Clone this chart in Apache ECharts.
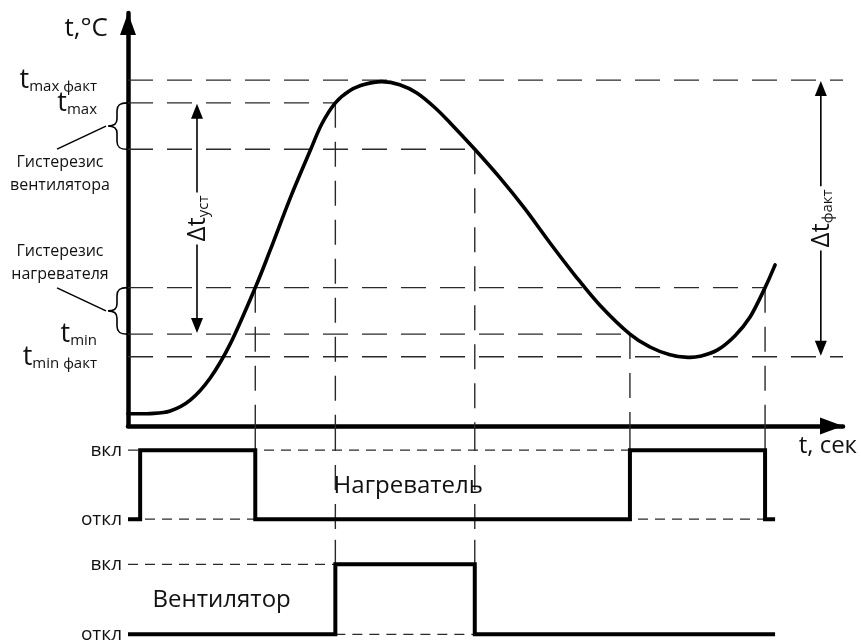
<!DOCTYPE html>
<html>
<head>
<meta charset="utf-8">
<script src="https://cdn.jsdelivr.net/npm/echarts@6/dist/echarts.min.js"></script>
<style>
  html, body { margin: 0; padding: 0; background: #fff; }
  #chart { width: 861px; height: 643px; }
</style>
</head>
<body>
<div id="chart"></div>
<script>
// Temperature curve: time (arbitrary units) and temperature (°C)
const curveTime = [0, 3.1, 5.9, 8.7, 11.5, 14.3, 17.8, 19.9, 22.7, 25.5, 27.1, 29.0, 31.05, 33.15, 35.5, 38.0, 40.4, 42.9, 45.0, 48.5, 52.0, 55.5, 59.0, 62.5, 66.0, 70.2, 73.0, 75.8, 78.3, 80.0, 82.4, 84.9, 87.0, 89.1, 90.5];
const curveTemp = [1.2, 1.2, 1.45, 2.5, 4.65, 7.95, 13.4, 17.05, 22.1, 26.7, 29.25, 31.3, 32.5, 33.1, 33.35, 33.05, 32.25, 30.85, 29.4, 26.8, 24.05, 21.05, 17.75, 14.6, 11.7, 8.9, 7.65, 6.9, 6.65, 6.75, 7.35, 8.75, 10.55, 13.4, 15.6];

// Temperature levels (dashed) and the time where each dashed line stops
const levelTemp = [33.5, 31.3, 26.8, 13.4, 8.9, 6.7];
const levelEnd  = [100, 29.0, 48.5, 89.1, 70.2, 100];

// Labels on the temperature axis
const tickTemp = [33.5, 31.3, 8.9, 6.7];
const tickSub  = ['max факт', 'max', 'min', 'min факт'];

// Heater and fan switching (0 = откл, 1 = вкл)
const heaterTime  = [0, 1.7, 17.8, 70.2, 89.1, 90.5];
const heaterState = [0, 1, 0, 1, 0, 0];
const fanTime  = [0, 29.0, 48.5, 90.5];
const fanState = [0, 1, 0, 0];
const stateTicks  = [0, 1];
const stateLabels = ['откл', 'вкл'];

// Switching moments: time, temperature on the curve, which signal switches
const switchTime   = [17.8, 29.0, 48.5, 70.2, 89.1];
const switchTemp   = [13.4, 31.3, 26.8, 8.9, 13.4];
const switchTarget = ['heater', 'fan', 'fan', 'heater', 'heater'];

// Ranges marked with double arrows
const spanTime = [9.65, 96.9];
const spanFrom = [31.3, 33.5];
const spanTo   = [8.9, 6.7];
const spanSub  = ['уст', 'факт'];

// Hysteresis braces
const braceFrom = [31.3, 13.4];
const braceTo   = [26.8, 8.9];
const braceText = ['Гистерезис\nвентилятора', 'Гистерезис\nнагревателя'];

const FONT = '"Open Sans", "Noto Sans", sans-serif';
const INK = '#111';
const STATE_MAX = 1.35, HEATER_MIN = -0.3, FAN_MIN = -0.12;

const dashMain  = { type: [25, 14], width: 1.4, color: '#2a2a2a' };
const dashState = { type: [10, 7], width: 1.3, color: '#2a2a2a' };

function seg(xi, yi, data, style, z) {
  return { type: 'line', xAxisIndex: xi, yAxisIndex: yi, data: data, symbol: 'none', showSymbol: false,
           lineStyle: style, silent: true, z: z || 2, animation: false };
}

const series = [];

// horizontal temperature levels
levelTemp.forEach((T, i) => series.push(seg(0, 0, [[0, T], [levelEnd[i], T]], dashMain)));

// vertical guides: curve -> time axis -> signal level
switchTime.forEach((t, i) => {
  series.push(seg(0, 0, [[t, switchTemp[i]], [t, 0]], dashMain));
  if (switchTarget[i] === 'heater') {
    series.push(seg(1, 1, [[t, STATE_MAX], [t, 1]], dashMain));
  } else {
    series.push(seg(1, 1, [[t, STATE_MAX], [t, HEATER_MIN]], dashMain));
    series.push(seg(2, 2, [[t, STATE_MAX], [t, 1]], dashMain));
  }
});

// reference levels of the signals
series.push(seg(1, 1, [[0, 1], [heaterTime[4], 1]], dashState));
series.push(seg(1, 1, [[0, 0], [heaterTime[heaterTime.length - 1], 0]], dashState));
series.push(seg(2, 2, [[0, 1], [fanTime[1], 1]], dashState));
series.push(seg(2, 2, [[fanTime[1], 0], [fanTime[2], 0]], dashState));

// temperature curve: Catmull-Rom spline through the points, placed by the axes
series.push({
  type: 'custom', xAxisIndex: 0, yAxisIndex: 0, silent: true, z: 5, clip: false,
  data: curveTime.map((t, i) => [t, curveTemp[i]]),
  renderItem: function (params, api) {
    if (params.dataIndex !== 0) return null;
    const p = curveTime.map((t, i) => api.coord([t, curveTemp[i]]));
    const n = p.length;
    const d = ['M', p[0][0], p[0][1]];
    for (let i = 0; i < n - 1; i++) {
      const p0 = p[Math.max(i - 1, 0)], p1 = p[i], p2 = p[i + 1], p3 = p[Math.min(i + 2, n - 1)];
      d.push('C',
        p1[0] + (p2[0] - p0[0]) / 6, p1[1] + (p2[1] - p0[1]) / 6,
        p2[0] - (p3[0] - p1[0]) / 6, p2[1] - (p3[1] - p1[1]) / 6,
        p2[0], p2[1]);
    }
    return { type: 'path', shape: { pathData: d.join(' ') },
             style: { stroke: '#000', lineWidth: 3.6, fill: 'none', lineCap: 'round', lineJoin: 'round' } };
  }
});

// labels of the temperature levels at the vertical axis
series.push({
  type: 'custom', xAxisIndex: 0, yAxisIndex: 0, silent: true, z: 6, clip: false,
  data: tickTemp.map(T => [0, T]),
  renderItem: function (params, api) {
    const p = api.coord([api.value(0), api.value(1)]);
    return {
      type: 'text', x: p[0] - 31, y: p[1],
      style: {
        text: '{t|t}{s|' + tickSub[params.dataIndex] + '}', align: 'right', verticalAlign: 'middle',
        rich: {
          t: { fontFamily: FONT, fontSize: 27, lineHeight: 28, verticalAlign: 'bottom', fill: INK },
          s: { fontFamily: FONT, fontSize: 15, lineHeight: 14, verticalAlign: 'bottom', fill: INK }
        }
      }
    };
  }
});

const stepStyle = { width: 4, color: '#000', join: 'miter', cap: 'butt' };
function titleMark(text, coord) {
  return {
    symbol: 'rect', symbolSize: 1, itemStyle: { color: 'rgba(0,0,0,0)' }, silent: true,
    label: { show: true, position: 'inside', formatter: text, fontFamily: FONT, fontSize: 24, color: INK },
    data: [{ coord: coord }]
  };
}
series.push({
  type: 'line', xAxisIndex: 1, yAxisIndex: 1, step: 'end', symbol: 'none', showSymbol: false,
  data: heaterTime.map((t, i) => [t, heaterState[i]]), lineStyle: stepStyle, z: 4, silent: true,
  markPoint: titleMark('Нагреватель', [39.2, 0.48])
});
series.push({
  type: 'line', xAxisIndex: 2, yAxisIndex: 2, step: 'end', symbol: 'none', showSymbol: false,
  data: fanTime.map((t, i) => [t, fanState[i]]), lineStyle: stepStyle, z: 4, silent: true,
  markPoint: titleMark('Вентилятор', [13.1, 0.49])
});

// double arrows with Δt labels
series.push({
  type: 'custom', xAxisIndex: 0, yAxisIndex: 0, silent: true, z: 6, clip: false,
  data: spanTime.map((t, i) => [t, spanFrom[i], spanTo[i]]),
  renderItem: function (params, api) {
    const a = api.coord([api.value(0), api.value(1)]);
    const b = api.coord([api.value(0), api.value(2)]);
    const cx = a[0], top = a[1] + 1, bot = b[1] - 1, mid = (top + bot) / 2;
    const head = 15, half = 6;
    return {
      type: 'group', children: [
        { type: 'line', shape: { x1: cx, y1: top + head - 2, x2: cx, y2: bot - head + 2 }, style: { stroke: '#000', lineWidth: 1.6 } },
        { type: 'polygon', shape: { points: [[cx, top], [cx - half, top + head], [cx + half, top + head]] }, style: { fill: '#000' } },
        { type: 'polygon', shape: { points: [[cx, bot], [cx - half, bot - head], [cx + half, bot - head]] }, style: { fill: '#000' } },
        { type: 'text', x: cx, y: mid, rotation: Math.PI / 2,
          style: {
            text: '{d|Δt}{s|' + spanSub[params.dataIndex] + '}',
            align: 'center', verticalAlign: 'middle', backgroundColor: '#fff', padding: [0, 3],
            rich: {
              d: { fontFamily: FONT, fontSize: 26, lineHeight: 28, verticalAlign: 'bottom', fill: INK },
              s: { fontFamily: FONT, fontSize: 15, lineHeight: 12, verticalAlign: 'bottom', fill: INK }
            }
          } }
      ]
    };
  }
});

// hysteresis braces with leaders and captions
series.push({
  type: 'custom', xAxisIndex: 0, yAxisIndex: 0, silent: true, z: 6, clip: false,
  data: braceFrom.map((v, i) => [0, v, braceTo[i]]),
  renderItem: function (params, api) {
    const a = api.coord([api.value(0), api.value(1)]);
    const b = api.coord([api.value(0), api.value(2)]);
    const x0 = a[0] - 1, yT = a[1], yB = b[1], ym = (yT + yB) / 2;
    const dir = params.dataIndex === 0 ? 1 : -1;
    const xs = x0 - 10, xt = x0 - 19;
    const path = [
      'M', x0, yT, 'C', x0 - 7, yT, xs, yT + 2, xs, yT + 8,
      'L', xs, ym - 7, 'C', xs, ym - 2, x0 - 13, ym, xt, ym,
      'C', x0 - 13, ym, xs, ym + 2, xs, ym + 7,
      'L', xs, yB - 8, 'C', xs, yB - 2, x0 - 7, yB, x0, yB
    ].join(' ');
    return {
      type: 'group', children: [
        { type: 'path', shape: { pathData: path }, style: { stroke: '#000', lineWidth: 1.6, fill: 'none' } },
        { type: 'line', shape: { x1: xt - 2, y1: ym, x2: x0 - 70, y2: ym + dir * 23 }, style: { stroke: '#000', lineWidth: 1.5 } },
        { type: 'text', x: x0 - 67, y: ym + dir * 48,
          style: { text: braceText[params.dataIndex], align: 'center', verticalAlign: 'middle',
                   fontFamily: FONT, fontSize: 16, lineHeight: 23, fill: INK } }
      ]
    };
  }
});

const hidden = { show: false };
const option = {
  animation: false,
  textStyle: { fontFamily: FONT, color: INK },
  grid: [
    { left: 128, right: 18, top: 13, height: 413, outerBoundsMode: 'none' },
    { left: 128, right: 18, top: 426, height: 113.85, outerBoundsMode: 'none' },
    { left: 128, right: 18, top: 539.85, height: 102.9, outerBoundsMode: 'none' }
  ],
  xAxis: [
    {
      gridIndex: 0, type: 'value', min: 0, max: 100,
      axisLine: { show: true, onZero: false, symbol: ['none', 'triangle'], symbolSize: [17, 23], symbolOffset: [0, -11.5],
                  lineStyle: { color: '#000', width: 4.5 } },
      axisTick: hidden, axisLabel: hidden, splitLine: hidden,
      name: 't, сек', nameLocation: 'end', nameGap: 14,
      nameTextStyle: { fontFamily: FONT, fontSize: 24, color: INK, align: 'right', verticalAlign: 'top', padding: [8, 0, 0, 0] }
    },
    { gridIndex: 1, type: 'value', min: 0, max: 100, show: false },
    { gridIndex: 2, type: 'value', min: 0, max: 100, show: false }
  ],
  yAxis: [
    {
      gridIndex: 0, type: 'value', min: 0, max: 40,
      axisLine: { show: true, onZero: false, symbol: ['none', 'triangle'], symbolSize: [16, 22], symbolOffset: [0, -11],
                  lineStyle: { color: '#000', width: 4.5 } },
      axisTick: hidden, splitLine: hidden, axisLabel: hidden,
      name: 't,°C', nameLocation: 'end', nameGap: -16,
      nameTextStyle: { fontFamily: FONT, fontSize: 26, color: INK, align: 'right', verticalAlign: 'middle', padding: [0, 20, 0, 0] }
    },
    {
      gridIndex: 1, type: 'value', min: HEATER_MIN, max: STATE_MAX,
      axisLine: hidden, axisTick: hidden, splitLine: hidden,
      axisLabel: { customValues: stateTicks, margin: 6, fontSize: 19, fontFamily: FONT, color: INK, hideOverlap: false,
                   showMinLabel: true, showMaxLabel: true,
                   formatter: v => stateLabels[stateTicks.indexOf(v)] || '' }
    },
    {
      gridIndex: 2, type: 'value', min: FAN_MIN, max: STATE_MAX,
      axisLine: hidden, axisTick: hidden, splitLine: hidden,
      axisLabel: { customValues: stateTicks, margin: 6, fontSize: 19, fontFamily: FONT, color: INK, hideOverlap: false,
                   showMinLabel: true, showMaxLabel: true,
                   formatter: v => stateLabels[stateTicks.indexOf(v)] || '' }
    }
  ],
  series: series
};

const chart = echarts.init(document.getElementById('chart'), null, { renderer: 'canvas' });
chart.setOption(option);
</script>
</body>
</html>
